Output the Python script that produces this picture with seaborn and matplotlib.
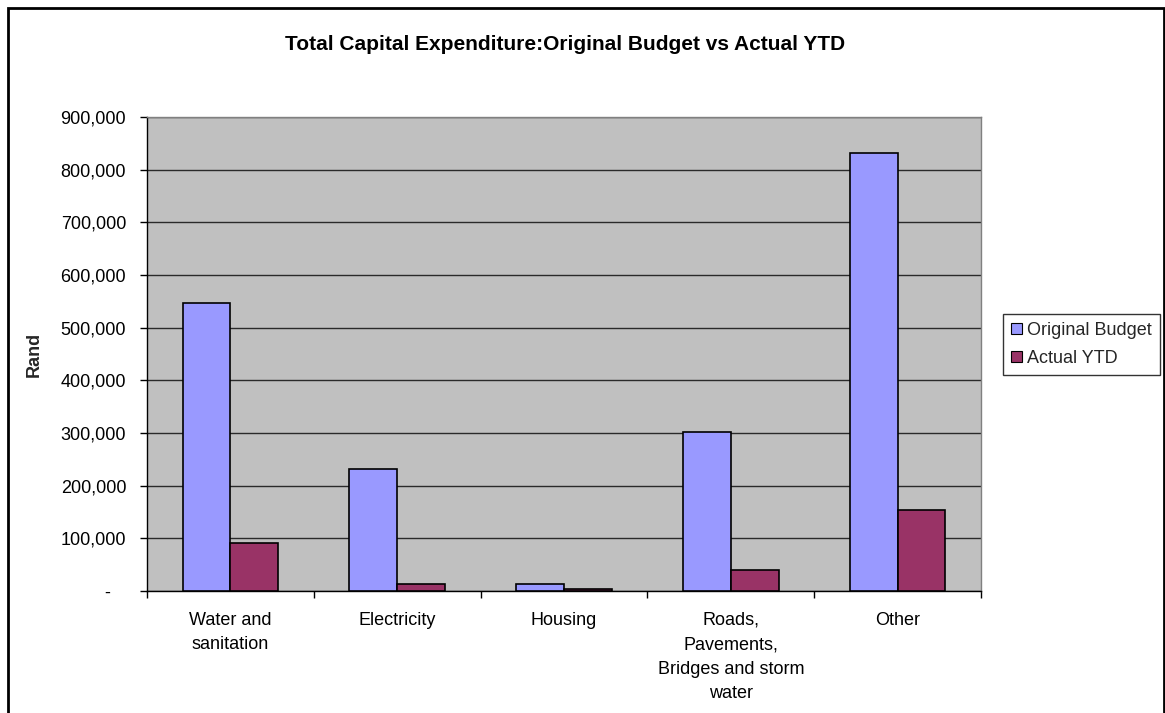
import matplotlib
matplotlib.use("Agg")
import matplotlib.pyplot as plt
import matplotlib.ticker as mticker
from matplotlib.patches import Rectangle, Patch
import seaborn as sns
import pandas as pd

categories = ["Water and\nsanitation", "Electricity", "Housing",
              "Roads,\nPavements,\nBridges and storm\nwater", "Other"]
original_budget = [546000, 232000, 13000, 301000, 831000]
actual_ytd = [92000, 13000, 4500, 40000, 154000]
series_names = ["Original Budget", "Actual YTD"]
series_colors = ["#9999FF", "#993366"]

df = pd.DataFrame({
    "Category": categories * 2,
    "Series": [series_names[0]] * len(categories) + [series_names[1]] * len(categories),
    "Rand": original_budget + actual_ytd,
})

sns.set_theme(style="white")
plt.rcParams["font.family"] = ["Liberation Sans", "DejaVu Sans"]

FS = 13
W, H = 1165, 713
fig = plt.figure(figsize=(W / 100, H / 100), dpi=100)
fig.patch.set_facecolor("white")

x0, x1, ytop, ybot = 147, 981, 117, 591
ax = fig.add_axes([x0 / W, (H - ybot) / H, (x1 - x0) / W, (ybot - ytop) / H])
ax.set_facecolor("#C0C0C0")

sns.barplot(data=df, x="Category", y="Rand", hue="Series",
            palette=series_colors, width=0.572, gap=0,
            edgecolor="black", linewidth=1.2, saturation=1,
            ax=ax, legend=False, zorder=3)

ax.set_xlim(-0.5, len(categories) - 0.5)
ax.set_ylim(0, 900000)
ax.set_yticks(range(0, 900001, 100000))


def rand_fmt(v, pos):
    return "-   " if v == 0 else f"{int(v):,}"


ax.yaxis.set_major_formatter(mticker.FuncFormatter(rand_fmt))
ax.yaxis.grid(True, color="#2a2a2a", linewidth=1.0, zorder=1)
ax.set_axisbelow(True)

ax.tick_params(axis="y", which="major", direction="out", length=5,
               width=1, color="black", pad=10, labelsize=FS, labelcolor="black", left=True)
ax.tick_params(axis="x", which="major", length=0, pad=15, labelsize=FS, labelcolor="black")
ax.set_xticks(range(len(categories)))
ax.set_xticklabels(categories, linespacing=1.58, va="top")
ax.set_xticks([i - 0.5 for i in range(len(categories) + 1)], minor=True)
ax.tick_params(axis="x", which="minor", direction="out", length=5, width=1,
               color="black", bottom=True)

ax.set_xlabel("")
ax.set_ylabel("Rand", fontsize=FS, fontweight="bold", labelpad=13)

for side in ["left", "bottom"]:
    ax.spines[side].set_color("black")
    ax.spines[side].set_linewidth(1.0)
for side in ["top", "right"]:
    ax.spines[side].set_color("#808080")
    ax.spines[side].set_linewidth(1.0)

fig.text(565 / W, 1 - 45 / H,
         "Total Capital Expenditure:Original Budget vs Actual YTD",
         ha="center", va="center", fontsize=15, fontweight="bold", color="black")

handles = [Patch(facecolor=c, edgecolor="black", linewidth=0.8) for c in series_colors]
leg = fig.legend(handles, series_names, loc="upper left",
                 bbox_to_anchor=(1003 / W, 1 - 314 / H),
                 frameon=True, fancybox=False, fontsize=FS,
                 handlelength=0.6, handleheight=0.6, handletextpad=0.3,
                 borderpad=0.45, labelspacing=0.6, borderaxespad=0)
leg.get_frame().set_edgecolor("black")
leg.get_frame().set_linewidth(1.0)

fig.patches.append(Rectangle((8 / W, -0.05), (1164 - 8) / W, 1.05 - 8 / H,
                             transform=fig.transFigure, fill=False,
                             edgecolor="black", linewidth=2.0))

fig.savefig("out.png", dpi=100)
